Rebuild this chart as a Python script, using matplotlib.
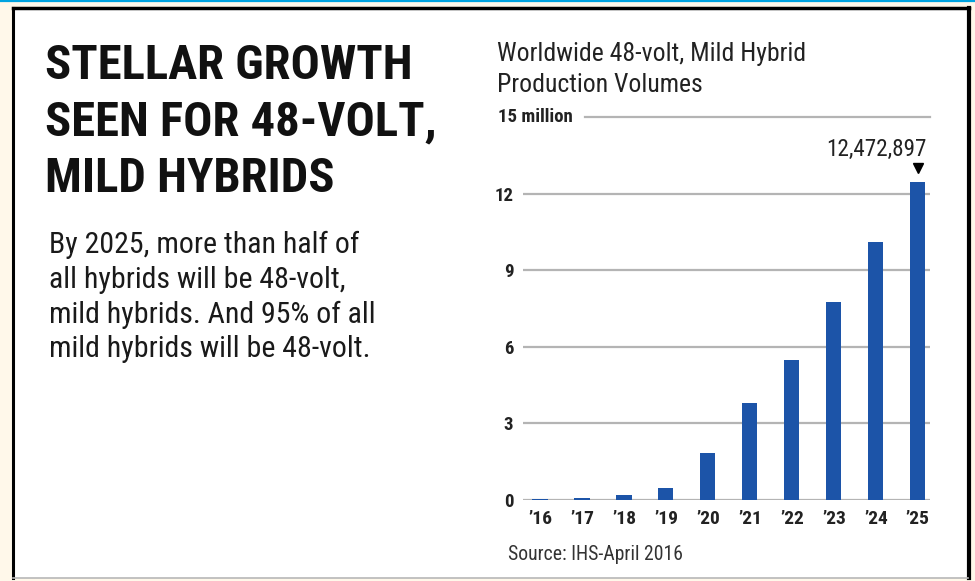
import matplotlib
matplotlib.use('Agg')
import matplotlib.pyplot as plt
import matplotlib.transforms as mtransforms
from matplotlib.patches import Rectangle
from matplotlib.lines import Line2D

plt.rcParams['font.family'] = ['Roboto Condensed', 'Roboto', 'DejaVu Sans']

# data
years = ["\u201916", "\u201917", "\u201918", "\u201919", "\u201920",
         "\u201921", "\u201922", "\u201923", "\u201924", "\u201925"]
volumes = [0.04, 0.06, 0.18, 0.48, 1.86, 3.8, 5.5, 7.74, 10.1, 12.472897]
yticks = [0, 3, 6, 9, 12]
top_tick = 15
last_label = "12,472,897"

W, H = 975, 581
fig = plt.figure(figsize=(W / 100, H / 100), dpi=100, facecolor='#fff8ea')

def fx(px):
    return px / W

def fy(py):
    # py measured from the top of the picture
    return 1 - py / H

# frame
fig.patches.append(Rectangle((fx(12.5), fy(578)), fx(969 - 12.5), fy(7.5) - fy(578),
                             transform=fig.transFigure, facecolor='white',
                             edgecolor='none', zorder=-5))
fig.lines.append(Line2D([fx(12.5), fx(12.5)], [fy(578), fy(7.5)], transform=fig.transFigure,
                        color='black', lw=2.2))
fig.lines.append(Line2D([fx(12.5), fx(969)], [fy(7.5), fy(7.5)], transform=fig.transFigure,
                        color='black', lw=2.5))
fig.lines.append(Line2D([fx(969), fx(969)], [fy(7.5), fy(578)], transform=fig.transFigure,
                        color='black', lw=3))
fig.lines.append(Line2D([fx(13), fx(968)], [fy(578), fy(578)], transform=fig.transFigure,
                        color='#b8b8b8', lw=1.2))
fig.lines.append(Line2D([0, 1], [fy(0.8), fy(0.8)], transform=fig.transFigure,
                        color='#00a3e0', lw=1.6))

# left texts
for i, line in enumerate(["STELLAR GROWTH", "SEEN FOR 48-VOLT,", "MILD HYBRIDS"]):
    fig.text(fx(45), fy(66 + i * 56.5), line, fontsize=35, fontweight='bold',
             color='#111111', va='center', ha='left')

body = ["By 2025, more than half of", "all hybrids will be 48-volt,",
        "mild hybrids. And 95% of all", "mild hybrids will be 48-volt."]
for i, line in enumerate(body):
    fig.text(fx(49), fy(245 + i * 34.8), line, fontsize=21.5, color='#1a1a1a',
             va='center', ha='left')

# chart titles
fig.text(fx(497), fy(54), "Worldwide 48-volt, Mild Hybrid", fontsize=18.5, color='#222222',
         va='center', ha='left')
fig.text(fx(497), fy(85), "Production Volumes", fontsize=18.5, color='#222222',
         va='center', ha='left')
fig.text(fx(508), fy(554), "Source: IHS-April 2016", fontsize=14.2, color='#333333',
         va='center', ha='left')

# chart
ax = fig.add_axes([fx(523), 1 - 500 / H, fx(930 - 523), 383 / H])
ax.set_facecolor('none')
x = list(range(len(years)))
ax.bar(x, volumes, width=0.36, color='#1c54a8', zorder=3)
ax.set_xlim(-0.405, 9.29)
ax.set_ylim(0, top_tick)

for t in yticks:
    ax.axhline(t, color='#b4b4b4', lw=1.6, zorder=1)
ax.axhline(top_tick, xmin=(585 - 523) / (930 - 523), xmax=1, color='#b4b4b4', lw=1.6,
           zorder=1, clip_on=False)
ax.text(-0.405 - 25 / 42, top_tick, "15 million", fontsize=13.5, fontweight='bold',
        color='#222222', va='center', ha='left')

ax.set_yticks(yticks)
ax.set_yticklabels([str(t) for t in yticks], fontsize=13.5, fontweight='bold', color='#222222')
ax.set_xticks(x)
ax.set_xticklabels(years, fontsize=14, fontweight='bold', color='#222222')
ax.tick_params(axis='y', length=0, pad=7)
ax.tick_params(axis='x', length=0, pad=7)
for s in ax.spines.values():
    s.set_visible(False)

# annotation on last bar
marker_tr = mtransforms.offset_copy(ax.transData, fig=fig, x=0, y=14, units='dots')
ax.plot([x[-1]], [volumes[-1]], marker='v', color='black', markersize=7,
        transform=marker_tr, clip_on=False, zorder=4)
ax.annotate(last_label, xy=(x[-1] + 0.2, volumes[-1]), xytext=(0, 32),
            textcoords='offset pixels', ha='right', va='center', fontsize=16.7,
            color='#222222', annotation_clip=False)

fig.savefig('out.png', dpi=100, facecolor=fig.get_facecolor())
